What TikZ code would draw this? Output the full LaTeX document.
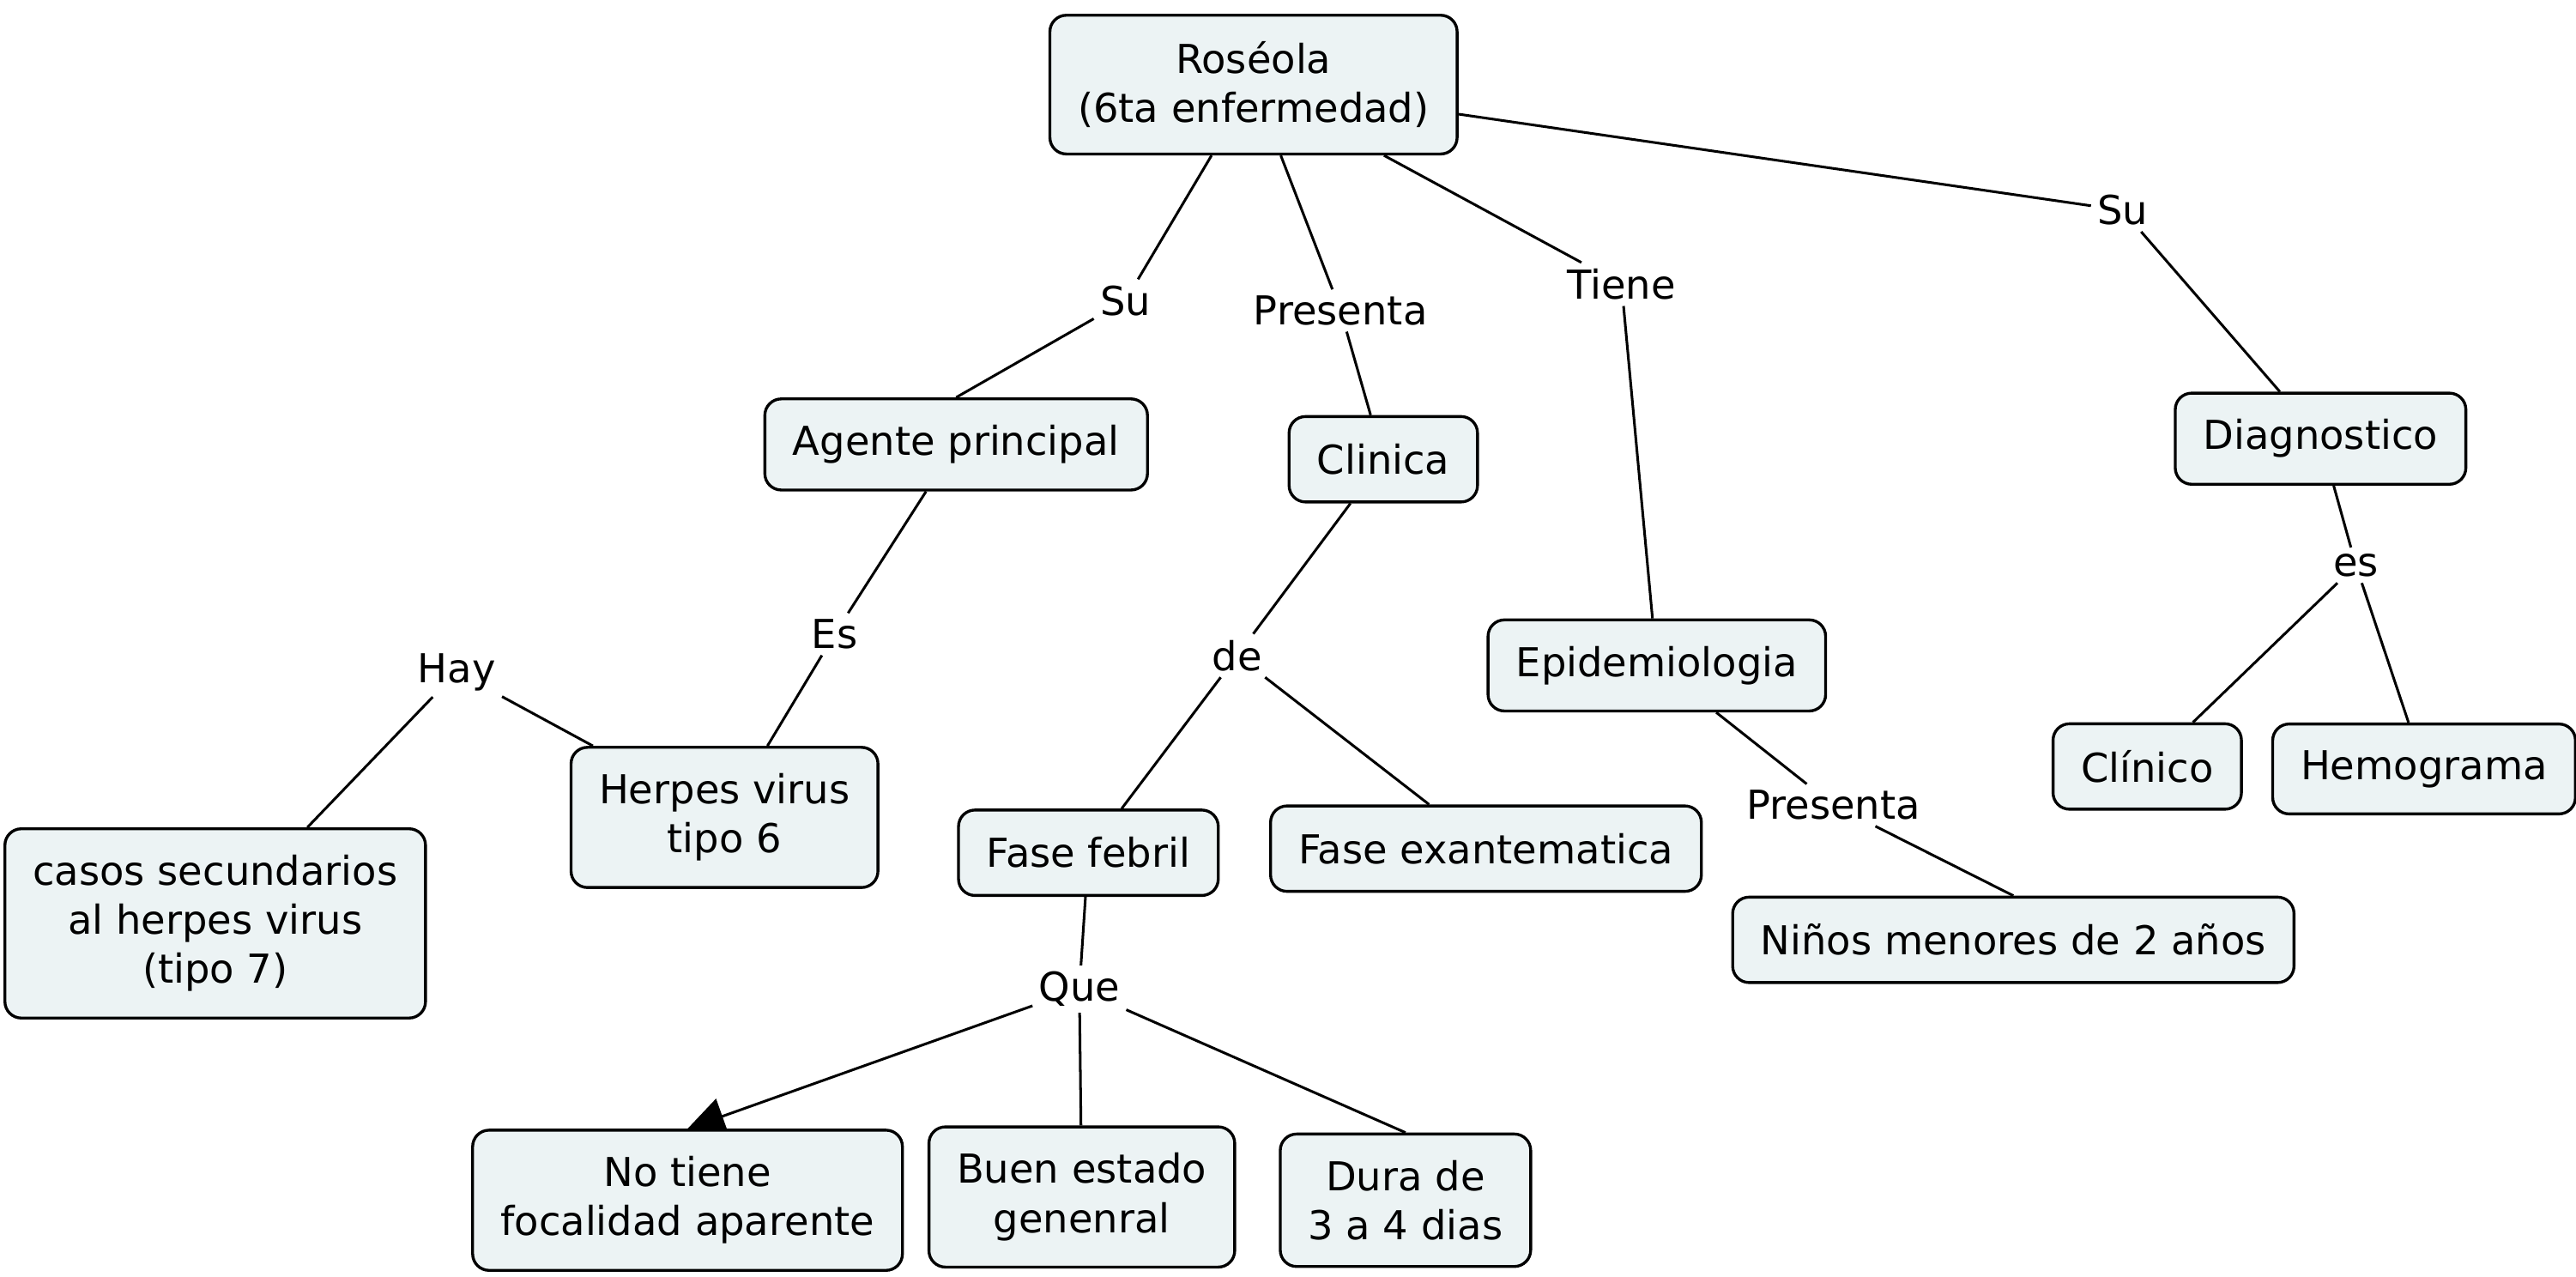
\documentclass[tikz,border=0pt]{standalone}
\usepackage{fontspec}
\setmainfont{DejaVu Sans}
\usetikzlibrary{arrows.meta,backgrounds}
\definecolor{conceptfill}{RGB}{236,243,244}

\begin{document}
\begin{tikzpicture}[x=0.02cm,y=-0.02cm,
	concept/.style={draw,fill=conceptfill,line width=1pt,rounded corners=0.2cm,align=center,
		inner xsep=0.34cm,inner ysep=0.32cm,minimum height=1.04cm,font=\fontsize{13.8}{17}\selectfont},
	linkword/.style={inner sep=2pt,font=\fontsize{13.8}{17}\selectfont},
	link/.style={line width=0.9pt}]
	\useasboundingbox (0,0) rectangle (1568,777);

	\node[concept] (roseola) at (763,51.5) {Roséola\\(6ta enfermedad)};
	\node[concept] (agente) at (582,270.5) {Agente principal};
	\node[concept] (clinica) at (842,279.5) {Clinica};
	\node[concept] (epidem) at (1008.5,405) {Epidemiologia};
	\node[concept] (diagn) at (1412.5,267) {Diagnostico};
	\node[concept] (clinico) at (1307,466.5) {Clínico};
	\node[concept] (hemograma) at (1475.5,468) {Hemograma};
	\node[concept] (herpes) at (441,497.5) {Herpes virus\\tipo 6};
	\node[concept] (casos) at (131,562) {casos secundarios\\al herpes virus\\(tipo 7)};
	\node[concept] (febril) at (662.5,519) {Fase febril};
	\node[concept] (exant) at (904.5,516.5) {Fase exantematica};
	\node[concept] (ninos) at (1225.5,572) {Niños menores de 2 años};
	\node[concept] (notiene) at (418.5,730.5) {No tiene\\focalidad aparente};
	\node[concept] (buen) at (658.5,728.5) {Buen estado\\genenral};
	\node[concept] (dura) at (855.5,730.5) {Dura de\\3 a 4 dias};

	\node[linkword] (lsua) at (685,183) {Su};
	\node[linkword] (lpres) at (816,189) {Presenta};
	\node[linkword] (ltiene) at (987,173) {Tiene};
	\node[linkword] (lsub) at (1292,128) {Su};
	\node[linkword] (les) at (508,386) {Es};
	\node[linkword] (lhay) at (278,409) {Hay};
	\node[linkword] (lde) at (753,399) {de};
	\node[linkword] (lpresb) at (1116,490) {Presenta};
	\node[linkword] (lesb) at (1434,344) {es};
	\node[linkword] (lque) at (657,602) {Que};

	\begin{pgfonlayer}{background}
	\draw[link] (roseola) -- (lsua) (lsua) -- (agente.north);
	\draw[link] (roseola) -- (lpres) (lpres) -- (clinica);
	\draw[link] (roseola) -- (ltiene) (ltiene) -- (epidem);
	\draw[link] (roseola) -- (lsub) (lsub) -- (diagn);
	\draw[link] (agente) -- (les) (les) -- (herpes);
	\draw[link] (herpes) -- (lhay) (lhay) -- (casos);
	\draw[link] (clinica) -- (lde) (lde) -- (febril) (lde) -- (exant);
	\draw[link] (epidem) -- (lpresb) (lpresb) -- (ninos.north);
	\draw[link] (diagn) -- (lesb) (lesb) -- (clinico) (lesb) -- (hemograma);
	\draw[link] (febril) -- (lque) (lque) -- (buen) (lque) -- (dura.north);
	\draw[link,-{Triangle[length=0.45cm,width=0.45cm]}] (lque) -- (notiene.north);
	\end{pgfonlayer}
\end{tikzpicture}
\end{document}
